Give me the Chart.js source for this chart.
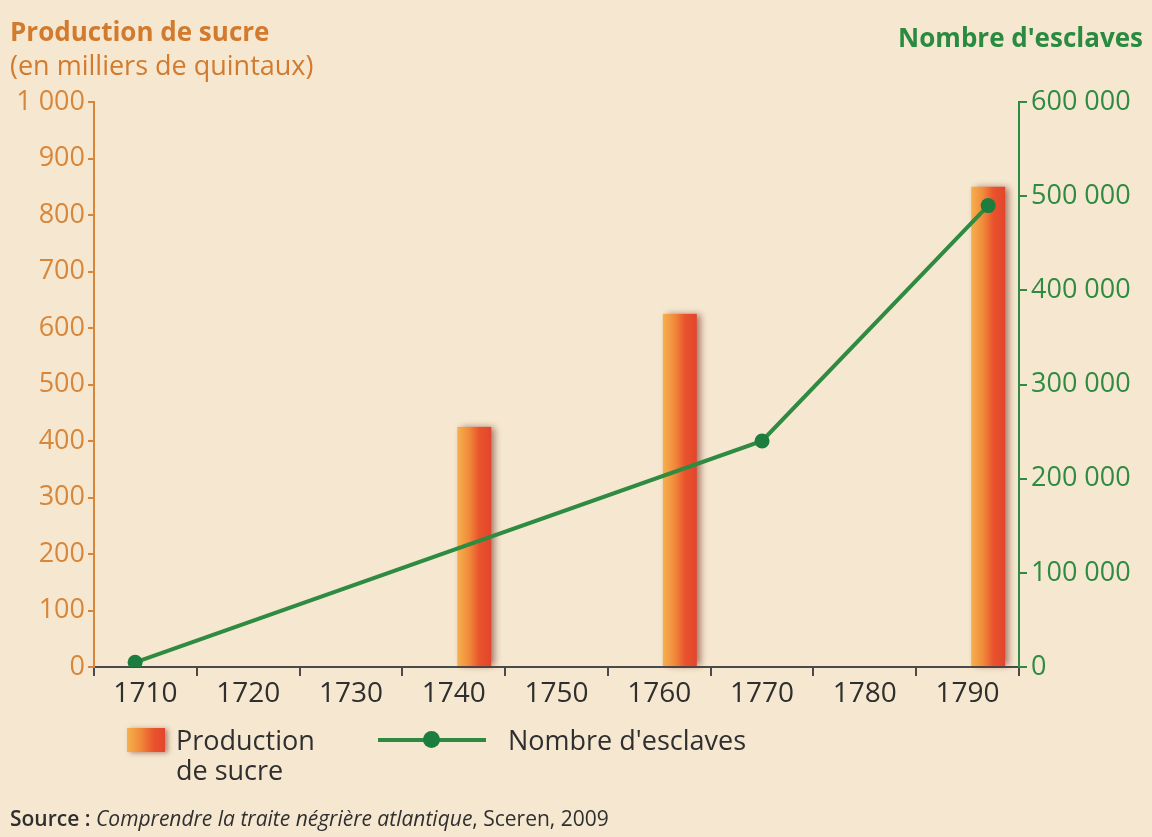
<!DOCTYPE html>
<html>
<head>
<meta charset="utf-8">
<script src="https://cdn.jsdelivr.net/npm/chart.js@4.4.1/dist/chart.umd.min.js"></script>
<style>
  html, body { margin: 0; padding: 0; background: #f6e8d0; }
  #wrap { position: relative; width: 1152px; height: 837px; overflow: hidden; background: #f6e8d0; font-family: "Open Sans", sans-serif; }
  #chart { position: absolute; left: 0; top: 0; }
  .txt { position: absolute; white-space: nowrap; }
  .orange { color: #d27a2e; }
  .green { color: #2a8a40; }
  .swatch-bar { position: absolute; left: 127px; top: 728px; width: 38px; height: 24px;
    background: linear-gradient(90deg, #f6b04e 0%, #f08a3a 35%, #e9532d 70%, #e2452c 100%);
    box-shadow: 3px 1px 5px rgba(120, 40, 30, 0.5); }
  .swatch-line { position: absolute; left: 378px; top: 738px; width: 108px; height: 4px; background: #2e8a42; }
  .swatch-dot { position: absolute; left: 423px; top: 731px; width: 17px; height: 17px; border-radius: 50%; background: #1c7d3e; }
</style>
</head>
<body>
<div id="wrap">
  <canvas id="chart" width="1152" height="837"></canvas>

  <div class="txt orange" style="left:10px; top:13px; font-size:26px; font-weight:700;">Production de sucre</div>
  <div class="txt orange" style="left:10px; top:46px; font-size:27px;">(en milliers de quintaux)</div>
  <div class="txt green" style="right:9px; top:19px; font-size:26px; font-weight:700;">Nombre d'esclaves</div>

  <div class="swatch-bar"></div>
  <div class="txt" style="left:176px; top:725px; font-size:27px; line-height:30px; color:#2f2f2f;">Production<br>de sucre</div>
  <div class="swatch-line"></div>
  <div class="swatch-dot"></div>
  <div class="txt" style="left:508px; top:725px; font-size:27px; line-height:30px; color:#2f2f2f;">Nombre d'esclaves</div>

  <div class="txt" style="left:10px; top:804px; font-size:21px; color:#2f2f2f;"><b style="font-weight:600">Source :</b> <i>Comprendre la traite négrière atlantique</i>, Sceren, 2009</div>
</div>

<script>
  // values
  const yearLabels = [1710, 1720, 1730, 1740, 1750, 1760, 1770, 1780, 1790];
  const yearBounds = [1705, 1715, 1725, 1735, 1745, 1755, 1765, 1775, 1785, 1795];

  const sugarYears = [1742, 1762, 1792];
  const sugarValues = [425, 625, 850]; // milliers de quintaux

  const slaveYears = [1709, 1770, 1792];
  const slaveValues = [5000, 240000, 490000];

  const sugarTicks = [0, 100, 200, 300, 400, 500, 600, 700, 800, 900, 1000];
  const slaveTicks = [0, 100000, 200000, 300000, 400000, 500000, 600000];

  const ORANGE = "#d8863a";
  const GREEN = "#2f8a42";
  const DARK = "#2f2f2f";

  function spaced(v) {
    return String(v).replace(/\B(?=(\d{3})+(?!\d))/g, " ");
  }

  function fixedTicks(values) {
    return (scale) => { scale.ticks = values.map((value) => ({ value })); };
  }

  // bars get a left-to-right orange/red gradient with a soft shadow
  const barPaint = {
    id: "barPaint",
    beforeDatasetDraw(chart, args) {
      if (args.meta.type !== "bar") return;
      const ctx = chart.ctx;
      args.meta.data.forEach((bar) => {
        const { x, y, base, width } = bar.getProps(["x", "y", "base", "width"], true);
        const left = x - width / 2;
        const right = x + width / 2;
        const grad = ctx.createLinearGradient(left, 0, right, 0);
        grad.addColorStop(0, "#f6b04e");
        grad.addColorStop(0.35, "#f08a3a");
        grad.addColorStop(0.65, "#e9532d");
        grad.addColorStop(1, "#e2452c");
        ctx.save();
        ctx.shadowColor = "rgba(110, 40, 30, 0.6)";
        ctx.shadowBlur = 7;
        ctx.shadowOffsetX = 4;
        ctx.fillStyle = grad;
        ctx.fillRect(left, y, width, base - y);
        ctx.restore();
      });
      return false;
    }
  };

  new Chart(document.getElementById("chart"), {
    type: "bar",
    data: {
      datasets: [
        {
          type: "line",
          label: "Nombre d'esclaves",
          data: slaveYears.map((yr, i) => ({ x: yr, y: slaveValues[i] })),
          xAxisID: "x",
          yAxisID: "y2",
          borderColor: GREEN,
          borderWidth: 4,
          pointRadius: 7.5,
          pointBackgroundColor: "#1c7d3e",
          pointBorderWidth: 0,
          tension: 0,
          order: 0
        },
        {
          type: "bar",
          label: "Production de sucre",
          data: sugarYears.map((yr, i) => ({ x: yr, y: sugarValues[i] })),
          xAxisID: "x",
          yAxisID: "y",
          barThickness: 34,
          backgroundColor: "#ec6a33",
          order: 1
        }
      ]
    },
    options: {
      responsive: false,
      animation: false,
      layout: { padding: { top: 102, left: 0, right: 0, bottom: 0 } },
      plugins: {
        legend: { display: false },
        tooltip: { enabled: false }
      },
      scales: {
        x: {
          type: "linear",
          position: "bottom",
          weight: 0,
          offset: false,
          min: 1705,
          max: 1795,
          afterBuildTicks: fixedTicks(yearBounds),
          afterFit: (s) => { s.height = 10; },
          ticks: { display: false },
          grid: { offset: false, drawOnChartArea: false, drawTicks: true, tickLength: 9, color: "#4a4a4a", lineWidth: 2 },
          border: { display: true, color: "#4a4a4a", width: 2 }
        },
        xl: {
          type: "linear",
          position: "bottom",
          weight: 1,
          offset: false,
          min: 1705,
          max: 1795,
          afterBuildTicks: fixedTicks(yearLabels),
          afterFit: (s) => { s.height = 160; },
          ticks: {
            color: DARK,
            padding: 0,
            maxRotation: 0,
            autoSkip: false,
            font: { family: "Open Sans", size: 28 },
            callback: (v) => String(v)
          },
          grid: { offset: false, display: false, drawTicks: false },
          border: { display: false }
        },
        y: {
          type: "linear",
          position: "left",
          min: 0,
          max: 1000,
          afterBuildTicks: fixedTicks(sugarTicks),
          afterFit: (s) => { s.width = 94; },
          ticks: {
            color: ORANGE,
            padding: 3,
            font: { family: "Open Sans", size: 27 },
            callback: (v) => spaced(v)
          },
          grid: { drawOnChartArea: false, drawTicks: true, tickLength: 6, color: ORANGE, lineWidth: 2 },
          border: { display: true, color: ORANGE, width: 2 }
        },
        y2: {
          type: "linear",
          position: "right",
          min: 0,
          max: 600000,
          afterBuildTicks: fixedTicks(slaveTicks),
          afterFit: (s) => { s.width = 133; },
          ticks: {
            color: GREEN,
            padding: 4,
            font: { family: "Open Sans", size: 27 },
            callback: (v) => spaced(v)
          },
          grid: { drawOnChartArea: false, drawTicks: true, tickLength: 8, color: GREEN, lineWidth: 2 },
          border: { display: true, color: GREEN, width: 2 }
        }
      }
    },
    plugins: [barPaint]
  });
</script>
</body>
</html>
